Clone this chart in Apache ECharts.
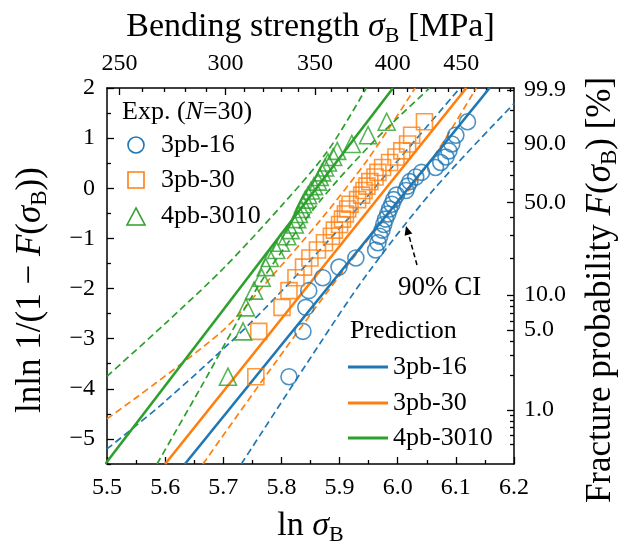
<!DOCTYPE html>
<html><head><meta charset="utf-8">
<script src="https://cdn.jsdelivr.net/npm/echarts@6/dist/echarts.min.js"></script>
<style>html,body{margin:0;padding:0;background:#fff}#c{width:624px;height:547px}</style>
</head><body><div id="c"></div>
<script>
// Weibull plotting positions (median rank), i = 1..30
const rankY = [-3.759,-2.855,-2.375,-2.042,-1.784,-1.572,-1.390,-1.231,-1.087,-0.956,
  -0.835,-0.722,-0.615,-0.512,-0.414,-0.319,-0.227,-0.136,-0.046,0.043,
  0.133,0.224,0.317,0.414,0.515,0.624,0.745,0.884,1.059,1.327];
// ln(sigma_B) of each specimen (sorted)
const x3pb16 = [5.813,5.837,5.842,5.847,5.871,5.899,5.928,5.962,5.966,5.969,
  5.973,5.976,5.979,5.983,5.986,5.990,5.993,5.998,6.014,6.017,
  6.021,6.031,6.041,6.065,6.074,6.083,6.088,6.093,6.100,6.120];
const x3pb30 = [5.756,5.761,5.801,5.813,5.825,5.838,5.849,5.862,5.874,5.886,
  5.891,5.900,5.905,5.910,5.914,5.918,5.931,5.938,5.942,5.947,
  5.952,5.961,5.966,5.974,5.986,5.997,6.007,6.017,6.024,6.046];
const x4pb3010 = [5.708,5.734,5.739,5.753,5.766,5.773,5.780,5.791,5.799,5.810,
  5.816,5.823,5.827,5.830,5.834,5.837,5.841,5.846,5.851,5.856,
  5.863,5.866,5.870,5.875,5.880,5.889,5.896,5.921,5.949,5.981];
// prediction lines and 90% CI curves ([ln sigma, lnln])
const pred3pb16 = [[5.634,-5.5],[6.158,2]];
const pred3pb30 = [[5.600,-5.5],[6.118,2]];
const pred4pb3010 = [[5.497,-5.5],[5.992,2]];
const ciUp3pb16 = [[5.5,-5.2],[5.6,-4.25],[5.75,-2.65],[5.9,-0.8],[6.0,0.55],[6.107,2]];
const ciLo3pb16 = [[5.731,-5.5],[5.866,-3.1],[5.945,-1.75],[6.06,-0.05],[6.2,1.69]];
const ciUp3pb30 = [[5.5,-4.6],[5.695,-2.88],[5.78,-1.8],[5.866,-0.65],[5.95,0.6],[6.03,2]];
const ciLo3pb30 = [[5.665,-5.5],[5.788,-3.5],[5.916,-1.5],[6.054,0.5],[6.135,2]];
const ciUp4pb3010 = [[5.5,-3.75],[5.6,-2.7],[5.7,-1.6],[5.8,-0.35],[5.88,0.75],[5.946,2]];
const ciLo4pb3010 = [[5.586,-5.5],[5.66,-4.0],[5.763,-1.9],[5.866,-0.26],[5.96,0.95],[6.055,2]];
// axis ticks
const leftTicks = [-5,-4,-3,-2,-1,0,1,2];
const leftMinor = [-5.5,-4.5,-3.5,-2.5,-1.5,-0.5,0.5,1.5];
const topMajorMPa = [250,300,350,400,450];
const topMinorMPa = [260,270,280,290,310,320,330,340,360,370,380,390,410,420,430,440,460,470,480,490];
const rightMajorPct = [99.9,90,50,10,5,1];
const rightMajorLabels = ['99.9','90.0','50.0','10.0','5.0','1.0'];
const rightMinorPct = [99,95,80,70,60,40,30,20,9,8,7,6,4,3,2,0.9,0.8,0.7,0.6,0.5];

const C = {b:'#1f77b4', o:'#ff7f0e', g:'#2ca02c'};
const FF = 'Liberation Serif';
const wb = p => 0.977*Math.log(-Math.log(1-p/100)) + 0.074;
const rightMajorPos = rightMajorPct.map(wb);
const rightMinorPos = rightMinorPct.map(wb);
const richA = {
  n:{fontFamily:FF,fontSize:34,color:'#000',lineHeight:40},
  i:{fontFamily:FF,fontSize:34,fontStyle:'italic',color:'#000',lineHeight:40},
  s:{fontFamily:FF,fontSize:22,color:'#000',lineHeight:22,verticalAlign:'bottom'}
};
const richG = {
  n:{fontFamily:FF,fontSize:35,fill:'#000',lineHeight:40},
  i:{fontFamily:FF,fontSize:35,fontStyle:'italic',fill:'#000',lineHeight:40},
  s:{fontFamily:FF,fontSize:23,fill:'#000',lineHeight:23,verticalAlign:'bottom'}
};
const frame = {show:true,onZero:false,lineStyle:{color:'#000',width:1.5}};
const tk = {color:'#000',width:1.3};
const lab = {fontFamily:FF,fontSize:24,color:'#000'};
const LF = '26px "Liberation Serif"';

const chart = echarts.init(document.getElementById('c'));
const pts = xs => xs.map((v,i)=>[v, rankY[i]]);
function sc(name, xs, sym, col, size){
  return {type:'scatter',name,data:pts(xs),symbol:sym,symbolSize:size,z:5,
    itemStyle:{color:'rgba(0,0,0,0)',borderColor:col,borderWidth:1.6}};
}
function ln(data,col,dashed){
  return {type:'line',data,showSymbol:false,symbol:'none',smooth:dashed?0.3:false,clip:true,z:3,
    lineStyle:dashed?{color:col,width:1.7,type:[7,4]}:{color:col,width:2.6}};
}
chart.setOption({
  animation:false,
  grid:{left:107,right:110,top:88,bottom:83,outerBoundsMode:'none'},
  xAxis:[
    {type:'value',min:5.5,max:6.2,interval:0.1,position:'bottom',axisLine:frame,
     axisTick:{inside:true,length:7,lineStyle:tk},
     minorTick:{show:true,splitNumber:2,length:4,lineStyle:tk},
     splitLine:{show:false},minorSplitLine:{show:false},
     axisLabel:Object.assign({margin:12,formatter:v=>v.toFixed(1)},lab),
     name:'{n|ln }{i|σ}{s|B}',nameLocation:'middle',nameGap:42,nameTextStyle:{rich:richA}},
    {type:'value',min:5.5,max:6.2,position:'top',axisLine:frame,
     axisTick:{inside:true,length:7,customValues:topMajorMPa.map(Math.log),lineStyle:tk},
     splitLine:{show:false},
     axisLabel:Object.assign({margin:12,customValues:topMajorMPa.map(Math.log),formatter:v=>String(Math.round(Math.exp(v)))},lab),
     name:'{n|Bending strength }{i|σ}{s|B}{n| [MPa]}',nameLocation:'middle',nameGap:37,nameTextStyle:{rich:richA}},
    {type:'value',min:5.5,max:6.2,position:'top',axisLine:{show:false,onZero:false},
     axisTick:{inside:true,length:4,customValues:topMinorMPa.map(Math.log),lineStyle:tk},
     splitLine:{show:false},axisLabel:{show:false}}
  ],
  yAxis:[
    {type:'value',min:-5.5,max:2,position:'left',axisLine:frame,
     axisTick:{inside:true,length:7,customValues:leftTicks,lineStyle:tk},
     splitLine:{show:false},
     axisLabel:Object.assign({margin:12,customValues:leftTicks,formatter:v=>v<0?'−'+(-v):String(v)},lab)},
    {type:'value',min:-5.5,max:2,position:'left',axisLine:{show:false,onZero:false},
     axisTick:{inside:true,length:4,customValues:leftMinor,lineStyle:tk},
     splitLine:{show:false},axisLabel:{show:false}},
    {type:'value',min:-5.5,max:2,position:'right',axisLine:frame,
     axisTick:{inside:true,length:7,customValues:rightMajorPos,lineStyle:tk},
     splitLine:{show:false},
     axisLabel:Object.assign({margin:10,customValues:rightMajorPos,formatter:v=>{
        let k=0,d=1e9; rightMajorPos.forEach((p,j)=>{if(Math.abs(p-v)<d){d=Math.abs(p-v);k=j;}}); return rightMajorLabels[k];}},lab)},
    {type:'value',min:-5.5,max:2,position:'right',axisLine:{show:false,onZero:false},
     axisTick:{inside:true,length:4,customValues:rightMinorPos,lineStyle:tk},
     splitLine:{show:false},axisLabel:{show:false}}
  ],
  series:[
    ln(ciUp3pb16,C.b,true), ln(ciLo3pb16,C.b,true),
    ln(ciUp3pb30,C.o,true), ln(ciLo3pb30,C.o,true),
    ln(ciUp4pb3010,C.g,true), ln(ciLo4pb3010,C.g,true),
    ln(pred3pb16,C.b,false), ln(pred3pb30,C.o,false), ln(pred4pb3010,C.g,false),
    sc('3pb-16',x3pb16,'circle',C.b,16),
    sc('3pb-30',x3pb30,'rect',C.o,16),
    sc('4pb-3010',x4pb3010,'triangle',C.g,17)
  ],
  graphic:[
    {type:'text',x:31,y:290,rotation:Math.PI/2,style:{text:'{n|lnln 1/(1 − }{i|F}{n|(}{i|σ}{s|B}{n|))}',rich:richG,align:'center',verticalAlign:'middle'},z:10},
    {type:'text',x:601,y:290,rotation:Math.PI/2,style:{text:'{n|Fracture probability }{i|F}{n|(}{i|σ}{s|B}{n|) [%]}',rich:richG,align:'center',verticalAlign:'middle'},z:10},
    {type:'text',x:122,y:112,style:{text:'{n|Exp. (}{i|N}{n|=30)}',verticalAlign:'middle',rich:{n:{fontFamily:FF,fontSize:26,fill:'#000'},i:{fontFamily:FF,fontSize:26,fontStyle:'italic',fill:'#000'}}},z:10},
    {type:'circle',shape:{cx:136,cy:145,r:8},style:{fill:'none',stroke:C.b,lineWidth:1.6},z:10},
    {type:'rect',shape:{x:128,y:172,width:16,height:16},style:{fill:'none',stroke:C.o,lineWidth:1.6},z:10},
    {type:'polygon',shape:{points:[[136,208],[127,225],[145,225]]},style:{fill:'none',stroke:C.g,lineWidth:1.6},z:10},
    {type:'text',x:161,y:145,style:{text:'3pb-16',font:LF,fill:'#000',verticalAlign:'middle'},z:10},
    {type:'text',x:161,y:180,style:{text:'3pb-30',font:LF,fill:'#000',verticalAlign:'middle'},z:10},
    {type:'text',x:161,y:216,style:{text:'4pb-3010',font:LF,fill:'#000',verticalAlign:'middle'},z:10},
    {type:'text',x:398,y:288,style:{text:'90% CI',font:'27px "Liberation Serif"',fill:'#000',verticalAlign:'middle'},z:10},
    {type:'line',shape:{x1:417,y1:265,x2:408.5,y2:234},style:{stroke:'#000',lineWidth:1.5,lineDash:[5,3]},z:10},
    {type:'polygon',shape:{points:[[406,226],[412.3,233.6],[404.6,235.8]]},style:{fill:'#000'},z:10},
    {type:'text',x:350,y:331,style:{text:'Prediction',font:LF,fill:'#000',verticalAlign:'middle'},z:10},
    {type:'line',shape:{x1:348,y1:367,x2:388,y2:367},style:{stroke:C.b,lineWidth:3},z:10},
    {type:'line',shape:{x1:348,y1:403,x2:388,y2:403},style:{stroke:C.o,lineWidth:3},z:10},
    {type:'line',shape:{x1:348,y1:438,x2:388,y2:438},style:{stroke:C.g,lineWidth:3},z:10},
    {type:'text',x:393,y:367,style:{text:'3pb-16',font:LF,fill:'#000',verticalAlign:'middle'},z:10},
    {type:'text',x:393,y:403,style:{text:'3pb-30',font:LF,fill:'#000',verticalAlign:'middle'},z:10},
    {type:'text',x:393,y:438,style:{text:'4pb-3010',font:LF,fill:'#000',verticalAlign:'middle'},z:10}
  ]
});
</script></body></html>
